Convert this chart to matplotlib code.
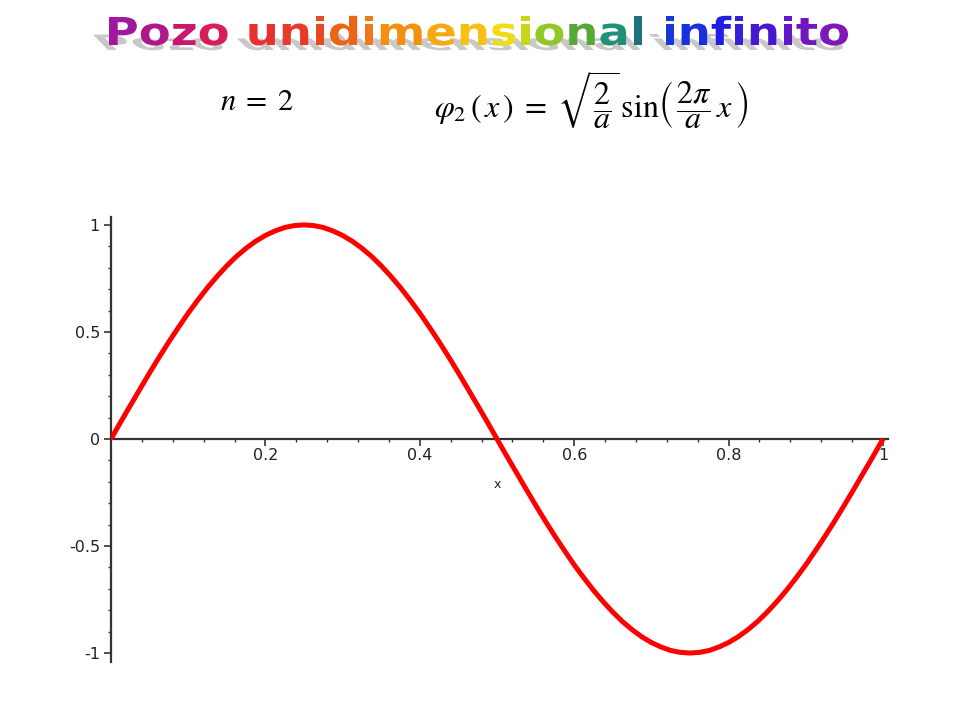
import matplotlib
matplotlib.use("Agg")
import matplotlib.pyplot as plt
from matplotlib.textpath import TextPath
from matplotlib.font_manager import FontProperties
from matplotlib.ticker import FixedLocator
from matplotlib.transforms import Affine2D
import matplotlib.patheffects as pe

# ---------------- data ----------------
title_text = "Pozo unidimensional infinito"
title_colors = ["#A0189E", "#B0188A", "#C8186E", "#D81E5A", None,
                "#E8302E", "#E83A28", "#E84A20", "#EC6418", "#F07818", "#F49010",
                "#F8A810", "#F8C010", "#F0DC10", "#C8D818", "#90C828", "#58A838",
                "#20907A", "#207080", None,
                "#1838D8", "#1830E0", "#2020E0", "#3820D8", "#4818D0", "#6018C8",
                "#7018C0", "#8018B8"]
shadow_color = "#C8C8C8"

x_values = [0.0, 0.0125, 0.025, 0.0375, 0.05, 0.0625, 0.075, 0.0875, 0.1, 0.1125,
            0.125, 0.1375, 0.15, 0.1625, 0.175, 0.1875, 0.2, 0.2125, 0.225, 0.2375,
            0.25, 0.2625, 0.275, 0.2875, 0.3, 0.3125, 0.325, 0.3375, 0.35, 0.3625,
            0.375, 0.3875, 0.4, 0.4125, 0.425, 0.4375, 0.45, 0.4625, 0.475, 0.4875,
            0.5, 0.5125, 0.525, 0.5375, 0.55, 0.5625, 0.575, 0.5875, 0.6, 0.6125,
            0.625, 0.6375, 0.65, 0.6625, 0.675, 0.6875, 0.7, 0.7125, 0.725, 0.7375,
            0.75, 0.7625, 0.775, 0.7875, 0.8, 0.8125, 0.825, 0.8375, 0.85, 0.8625,
            0.875, 0.8875, 0.9, 0.9125, 0.925, 0.9375, 0.95, 0.9625, 0.975, 0.9875,
            1.0]
phi_values = [0.0, 0.079, 0.156, 0.233, 0.309, 0.383, 0.454, 0.522, 0.588, 0.649,
              0.707, 0.760, 0.809, 0.853, 0.891, 0.924, 0.951, 0.972, 0.988, 0.997,
              1.0, 0.997, 0.988, 0.972, 0.951, 0.924, 0.891, 0.853, 0.809, 0.760,
              0.707, 0.649, 0.588, 0.522, 0.454, 0.383, 0.309, 0.233, 0.156, 0.079,
              0.0, -0.079, -0.156, -0.233, -0.309, -0.383, -0.454, -0.522, -0.588, -0.649,
              -0.707, -0.760, -0.809, -0.853, -0.891, -0.924, -0.951, -0.972, -0.988, -0.997,
              -1.0, -0.997, -0.988, -0.972, -0.951, -0.924, -0.891, -0.853, -0.809, -0.760,
              -0.707, -0.649, -0.588, -0.522, -0.454, -0.383, -0.309, -0.233, -0.156, -0.079,
              0.0]

x_ticks = [0.2, 0.4, 0.6, 0.8, 1.0]
x_tick_labels = ["0.2", "0.4", "0.6", "0.8", "1"]
x_minor = [0.04, 0.08, 0.12, 0.16, 0.24, 0.28, 0.32, 0.36, 0.44, 0.48, 0.52, 0.56,
           0.64, 0.68, 0.72, 0.76, 0.84, 0.88, 0.92, 0.96]
y_ticks = [-1.0, -0.5, 0.0, 0.5, 1.0]
y_tick_labels = ["-1", "-0.5", "0", "0.5", "1"]
y_minor = [-0.9, -0.8, -0.7, -0.6, -0.4, -0.3, -0.2, -0.1,
           0.1, 0.2, 0.3, 0.4, 0.6, 0.7, 0.8, 0.9]

plt.rcParams["mathtext.fontset"] = "stix"

W, H = 960, 720
fig = plt.figure(figsize=(9.6, 7.2), dpi=100)

# ---------------- main axes ----------------
ax = fig.add_axes([111 / W, 58 / H, (888 - 111) / W, 445 / H])
ax.set_xlim(0, 1.0065)
ax.set_ylim(-1.042, 1.037)
ax.plot(x_values, phi_values, color="#FF0000", lw=3.6, solid_capstyle="butt",
        solid_joinstyle="round", zorder=3)

for s in ["top", "right"]:
    ax.spines[s].set_visible(False)
ax.spines["left"].set_position(("data", 0))
ax.spines["bottom"].set_position(("data", 0))
for s in ["left", "bottom"]:
    ax.spines[s].set_color("#333333")
    ax.spines[s].set_linewidth(1.6)

ax.xaxis.set_major_locator(FixedLocator(x_ticks))
ax.xaxis.set_minor_locator(FixedLocator(x_minor))
ax.yaxis.set_major_locator(FixedLocator(y_ticks))
ax.yaxis.set_minor_locator(FixedLocator(y_minor))
ax.set_xticklabels(x_tick_labels)
ax.set_yticklabels(y_tick_labels)
ax.tick_params(which="major", direction="out", length=5, width=1.2, color="#333333",
               labelsize=11.5, labelcolor="#222222", pad=3)
ax.tick_params(axis="x", which="major", pad=1.5)
ax.tick_params(which="minor", direction="out", length=2.5, width=1.0, color="#333333")
for lab in ax.get_xticklabels() + ax.get_yticklabels():
    lab.set_fontfamily("DejaVu Sans")
ax.text(0.5, -0.215, "x", ha="center", va="center", fontsize=9,
        family="DejaVu Sans", color="#222222")
ax.patch.set_alpha(0)

# ---------------- formula ----------------
fig.text(257 / W, 1 - 101 / H, r"$n\;=\;2$", fontsize=22, ha="center", va="center")
fig.text(434 / W, 1 - 101 / H,
         r"$\varphi_2\,\left(\,x\,\right)\;=\;\sqrt{\dfrac{2}{a}}\,\sin\!\left(\,\dfrac{2\pi}{a}\,x\,\right)$",
         fontsize=23, ha="left", va="center")

# ---------------- rainbow WordArt title ----------------
prop = FontProperties(family="DejaVu Sans", weight="bold")
FS_UNITS = 100.0  # TextPath size equal to the text-to-path internal scale


def ink_ext(s):
    return TextPath((0, 0), s, size=FS_UNITS, prop=prop).get_extents()


full = ink_ext(title_text)
origins = []
for i, c in enumerate(title_text):
    if c == " ":
        origins.append(None)
    else:
        origins.append(ink_ext(title_text[: i + 1]).x1 - ink_ext(c).x1)

left_px, right_px = 109, 848
k = (right_px - left_px) / (full.x1 - full.x0)     # px per glyph unit
size_px = k * FS_UNITS
fs_pt = size_px * 72 / 100.0
cap_px = 28.0
sy = cap_px / (0.729 * size_px)                    # vertical squash -> wide WordArt look


class Squash(pe.AbstractPathEffect):
    """Draw the glyphs squashed vertically, optionally slanted and shifted."""

    def __init__(self, sy, skew=0.0, vscale=1.0, shift=(0, 0)):
        super().__init__(offset=(0, 0))
        self.sy, self.skew, self.vscale, self.shift = sy, skew, vscale, shift

    def draw_path(self, renderer, gc, tpath, affine, rgbFace=None):
        a = (Affine2D().skew_deg(self.skew, 0).scale(1, self.vscale * self.sy)
             + affine + Affine2D().translate(*self.shift))
        g = renderer.new_gc()
        g.copy_properties(gc)
        g.set_linewidth(0)
        renderer.draw_path(g, tpath, a, rgbFace)
        g.restore()


baseline_y = (H - 45) / H
letters = []
for c, o, col in zip(title_text, origins, title_colors):
    if c == " ":
        continue
    letters.append((left_px + (o - full.x0) * k, c, col))

# grey WordArt shadow letters (slanted, flattened) below the coloured ones
for xo, c, col in letters:
    fig.text(xo / W, baseline_y, c, fontsize=fs_pt, family="DejaVu Sans",
             weight="bold", color=shadow_color, ha="left", va="baseline", zorder=1,
             path_effects=[Squash(sy, skew=-24, vscale=0.55, shift=(-1, -5))])
# coloured letters
for xo, c, col in letters:
    fig.text(xo / W, baseline_y, c, fontsize=fs_pt, family="DejaVu Sans",
             weight="bold", color=col, ha="left", va="baseline", zorder=2,
             path_effects=[Squash(sy)])

fig.savefig("out.png", dpi=100)
